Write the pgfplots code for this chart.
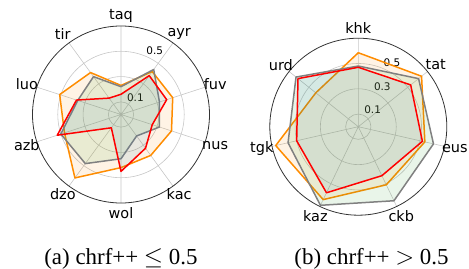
\documentclass[border=0pt]{standalone}
\usepackage{fontspec}
\setmainfont{Liberation Serif}
\newfontfamily\dejavu{DejaVu Sans}
\usepackage{pgfplots}
\pgfplotsset{compat=1.18}
\usepgfplotslibrary{polar}

\definecolor{lorange}{RGB}{255,140,0}
\definecolor{lgray}{RGB}{128,128,128}
\definecolor{lred}{RGB}{255,0,0}
\definecolor{fgreen}{RGB}{44,160,44}
\definecolor{fblue}{RGB}{31,119,180}

\tikzset{rlab/.style={anchor=south west, inner sep=1pt, font=\dejavu\fontsize{10.5}{12}\selectfont}}
\pgfplotsset{radar/.style={
  scale only axis, width=177bp, height=177bp,
  ymin=0, ymax=0.7, ytick={0.1,0.3,0.5}, yticklabels={},
  xmajorgrids, ymajorgrids,
  grid style={black!22, line width=0.6pt},
  separate axis lines,
  x axis line style={black!80, line width=0.8pt},
  y axis line style={draw=none},
  major tick length=0pt,
  xticklabel style={font=\dejavu\fontsize{14.5}{16}\selectfont, inner sep=0pt, anchor=center, shift={(\tick:10.5bp)}},
  },
  sorange/.style={draw=lorange, line width=1.5pt, line join=round, fill=lorange, fill opacity=0.1},
  sgray/.style={draw=lgray, line width=1.5pt, line join=round, fill=fgreen, fill opacity=0.1},
  sred/.style={draw=lred, line width=1.5pt, line join=round, fill=fblue, fill opacity=0.1},
}

\begin{document}
\begin{tikzpicture}
\useasboundingbox (0,0) rectangle (469bp,-269bp);

% (a) chrf++ <= 0.5
\begin{polaraxis}[radar, at={(121bp,-114.5bp)}, anchor=center,
  xtick={18,54,90,126,162,198,234,270,306,342},
  xticklabels={fuv,ayr,taq,tir,luo,azb,dzo,wol,kac,nus}]
\node[rlab] at (axis cs:67.5,0.1) {0.1};
\node[rlab] at (axis cs:67.5,0.5) {0.5};
% angles: taq 90, ayr 54, fuv 18, nus -18, kac -54, wol -90, dzo -126, azb -162, luo -198, tir -234
\addplot[sorange] coordinates {(90,0.23) (54,0.42) (18,0.43) (-18,0.42) (-54,0.40) (-90,0.42) (-126,0.62) (-162,0.47) (-198,0.51) (-234,0.41) (-270,0.23)};
\addplot[sgray] coordinates {(90,0.22) (54,0.44) (18,0.32) (-18,0.32) (-54,0.21) (-90,0.35) (-126,0.48) (-162,0.50) (-198,0.36) (-234,0.37) (-270,0.22)};
\addplot[sred] coordinates {(90,0.16) (54,0.38) (18,0.38) (-18,0.26) (-54,0.33) (-90,0.45) (-126,0.13) (-162,0.53) (-198,0.37) (-234,0.16) (-270,0.16)};
\end{polaraxis}

% (b) chrf++ > 0.5
\begin{polaraxis}[radar, at={(358.3bp,-126.7bp)}, anchor=center,
  xtick={38.571,90,141.429,192.857,244.286,295.714,347.143},
  xticklabels={tat,khk,urd,tgk,kaz,ckb,eus}]
\node[rlab] at (axis cs:67.5,0.1) {0.1};
\node[rlab] at (axis cs:67.5,0.3) {0.3};
\node[rlab] at (axis cs:67.5,0.5) {0.5};
% angles: khk 90, tat 38.571, eus -12.857, ckb -64.286, kaz -115.714, tgk -167.143, urd -218.571
\addplot[sorange] coordinates {(90,0.585) (38.571,0.64) (-12.857,0.54) (-64.286,0.51) (-115.714,0.64) (-167.143,0.67) (-218.571,0.43) (-270,0.585)};
\addplot[sgray] coordinates {(90,0.48) (38.571,0.61) (-12.857,0.61) (-64.286,0.65) (-115.714,0.69) (-167.143,0.57) (-218.571,0.63) (-270,0.48)};
\addplot[sred] coordinates {(90,0.47) (38.571,0.53) (-12.857,0.52) (-64.286,0.43) (-115.714,0.58) (-167.143,0.50) (-218.571,0.61) (-270,0.47)};
\end{polaraxis}

\node[anchor=base, font=\fontsize{23}{27}\selectfont] at (121bp,-264bp) {(a) chrf++ $\leq$ 0.5};
\node[anchor=base, font=\fontsize{23}{27}\selectfont] at (371.5bp,-264bp) {(b) chrf++ $>$ 0.5};
\end{tikzpicture}
\end{document}
